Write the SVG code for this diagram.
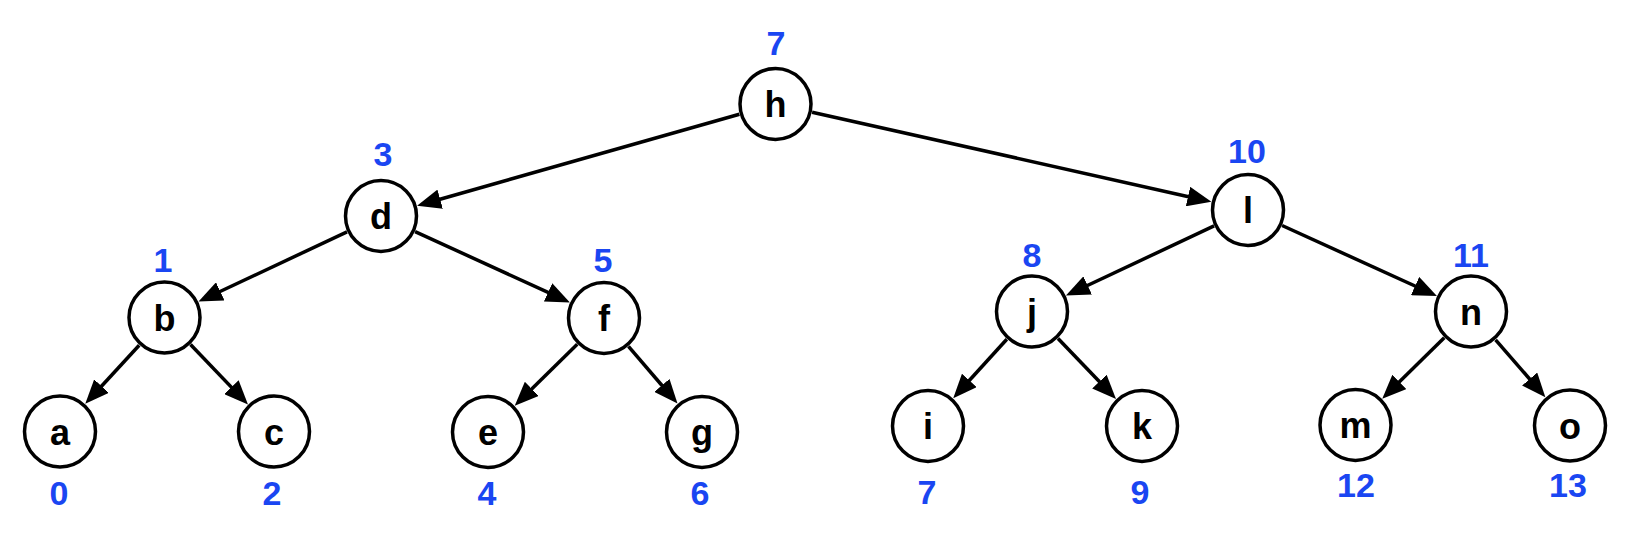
<svg xmlns="http://www.w3.org/2000/svg" width="1630" height="534" viewBox="0 0 1630 534">
<style>
.node circle{fill:#fff;stroke:#000;stroke-width:3.5}
.node text.lbl{font-family:"Liberation Sans",Arial,sans-serif;font-weight:bold;font-size:36px;text-anchor:middle;fill:#000}
.node text.idx{font-family:"Liberation Sans",Arial,sans-serif;font-weight:bold;font-size:34px;text-anchor:middle;fill:#1a46f2}
.edges line{stroke:#000;stroke-width:3.5;marker-end:url(#arrow)}
</style>
<defs>
<marker id="arrow" markerUnits="userSpaceOnUse" viewBox="0 0 24 20" markerWidth="24" markerHeight="20" refX="12" refY="10" orient="auto">
<path d="M0,0 L24,10 L0,20 z" fill="#000"/>
</marker>
</defs>
<rect width="1630" height="534" fill="#fff"/>
<g id="connectors" class="edges">
<line x1="739.4" y1="114.2" x2="428.6" y2="202.5"/>
<line x1="812.1" y1="112.2" x2="1199.7" y2="199.2"/>
<line x1="347.0" y1="231.9" x2="209.4" y2="296.5"/>
<line x1="415.1" y1="231.6" x2="559.0" y2="297.4"/>
<line x1="1214.1" y1="225.9" x2="1076.8" y2="290.5"/>
<line x1="1282.1" y1="225.5" x2="1426.0" y2="291.0"/>
<line x1="139.2" y1="345.2" x2="93.4" y2="395.0"/>
<line x1="190.5" y1="344.5" x2="239.7" y2="395.9"/>
<line x1="577.25" y1="344.3" x2="523.3" y2="397.3"/>
<line x1="628.45" y1="346.4" x2="669.7" y2="394.5"/>
<line x1="1006.8" y1="339.3" x2="961.3" y2="389.3"/>
<line x1="1058.0" y1="338.5" x2="1107.7" y2="390.3"/>
<line x1="1444.25" y1="337.8" x2="1390.8" y2="390.3"/>
<line x1="1495.6" y1="339.8" x2="1537.5" y2="388.1"/>
</g>
<g id="node-h" class="node"><circle cx="775.5" cy="104" r="35.5"/><text class="lbl" x="775.5" y="117">h</text><text class="idx" x="776" y="55">7</text></g>
<g id="node-d" class="node"><circle cx="381" cy="216" r="35.5"/><text class="lbl" x="381" y="229">d</text><text class="idx" x="383" y="166">3</text></g>
<g id="node-l" class="node"><circle cx="1248" cy="210" r="35.5"/><text class="lbl" x="1248" y="223">l</text><text class="idx" x="1247" y="163">10</text></g>
<g id="node-b" class="node"><circle cx="164.5" cy="317.5" r="35.5"/><text class="lbl" x="164.5" y="330.5">b</text><text class="idx" x="163" y="272">1</text></g>
<g id="node-f" class="node"><circle cx="604" cy="318" r="35.5"/><text class="lbl" x="604" y="331">f</text><text class="idx" x="603" y="272">5</text></g>
<g id="node-j" class="node"><circle cx="1032" cy="311.5" r="35.5"/><text class="lbl" x="1032" y="324.5">j</text><text class="idx" x="1032" y="267">8</text></g>
<g id="node-n" class="node"><circle cx="1471" cy="311.5" r="35.5"/><text class="lbl" x="1471" y="324.5">n</text><text class="idx" x="1471" y="267">11</text></g>
<g id="node-a" class="node"><circle cx="60" cy="431.5" r="35.5"/><text class="lbl" x="60" y="444.5">a</text><text class="idx" x="59" y="505">0</text></g>
<g id="node-c" class="node"><circle cx="274" cy="431.5" r="35.5"/><text class="lbl" x="274" y="444.5">c</text><text class="idx" x="272" y="505">2</text></g>
<g id="node-e" class="node"><circle cx="488" cy="432" r="35.5"/><text class="lbl" x="488" y="445">e</text><text class="idx" x="487" y="505">4</text></g>
<g id="node-g" class="node"><circle cx="702" cy="432" r="35.5"/><text class="lbl" x="702" y="445">g</text><text class="idx" x="700" y="505">6</text></g>
<g id="node-i" class="node"><circle cx="928" cy="426" r="35.5"/><text class="lbl" x="928" y="439">i</text><text class="idx" x="927" y="504">7</text></g>
<g id="node-k" class="node"><circle cx="1142" cy="426" r="35.5"/><text class="lbl" x="1142" y="439">k</text><text class="idx" x="1140" y="504">9</text></g>
<g id="node-m" class="node"><circle cx="1355.5" cy="425" r="35.5"/><text class="lbl" x="1355.5" y="438">m</text><text class="idx" x="1356" y="497">12</text></g>
<g id="node-o" class="node"><circle cx="1570" cy="425.5" r="35.5"/><text class="lbl" x="1570" y="438.5">o</text><text class="idx" x="1568" y="497">13</text></g>
</svg>
